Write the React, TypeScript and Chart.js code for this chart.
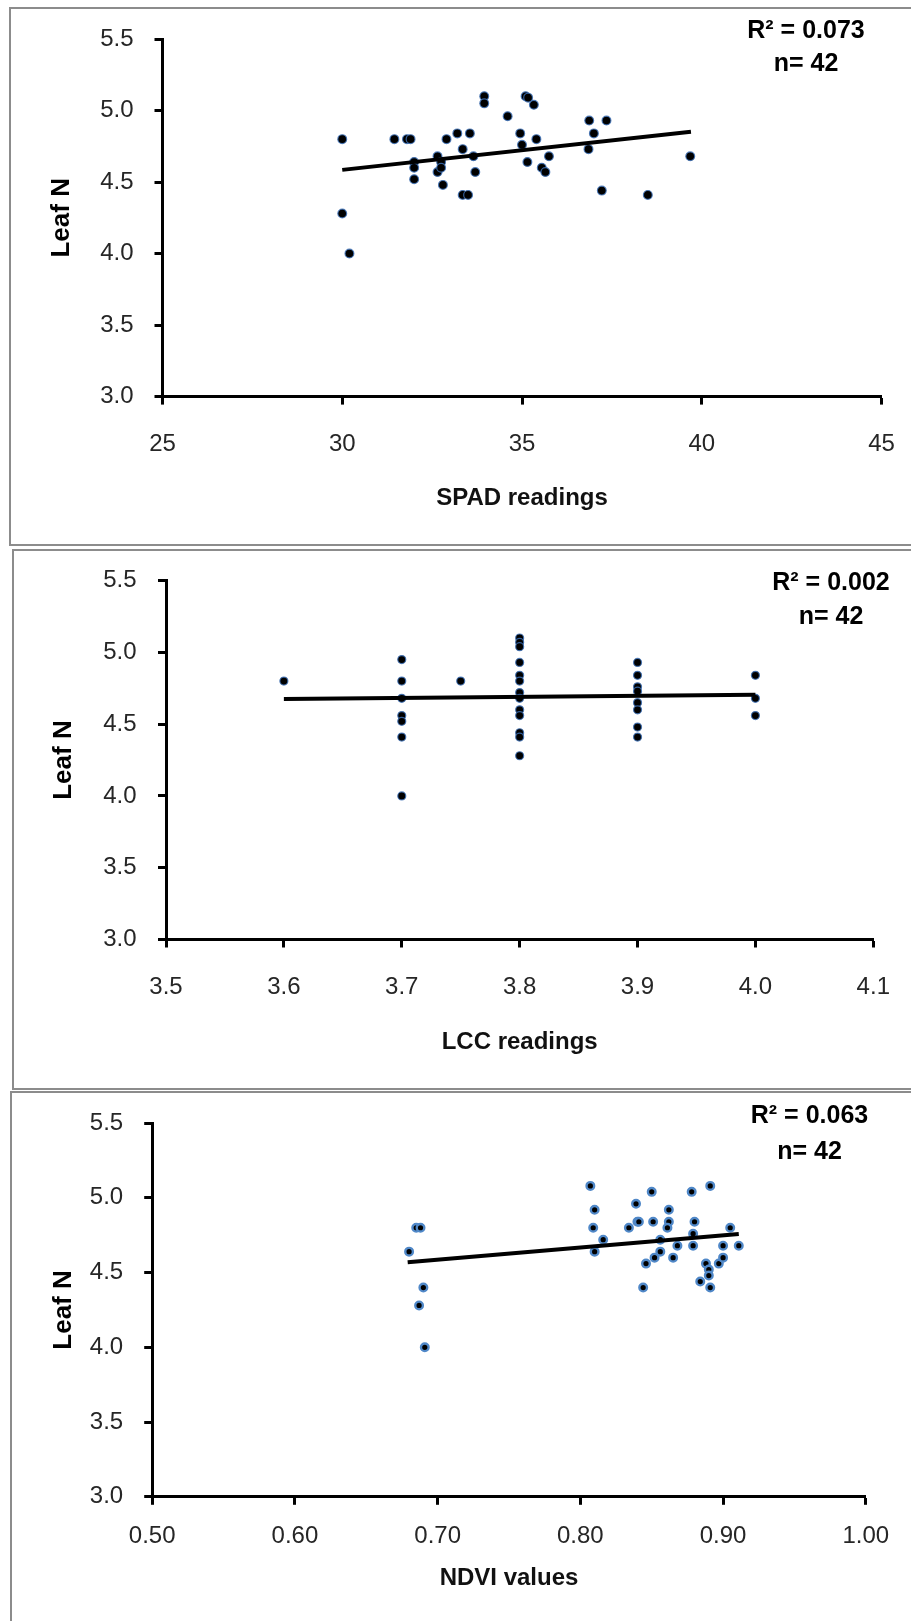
import React, { useEffect, useRef } from 'react';
import { Chart, registerables } from 'chart.js';

Chart.register(...registerables);

const FONT = "'Liberation Sans', Arial, Helvetica, sans-serif";

// ---- Axis ticks ----
const leafNTicks = [3.0, 3.5, 4.0, 4.5, 5.0, 5.5];
const spadTicks = [25, 30, 35, 40, 45];
const lccTicks = [3.5, 3.6, 3.7, 3.8, 3.9, 4.0, 4.1];
const ndviTicks = [0.5, 0.6, 0.7, 0.8, 0.9, 1.0];

// ---- Panel 1: SPAD readings vs Leaf N ----
const spadX = [30.0, 30.0, 30.2, 31.45, 31.8, 31.9, 32.0, 32.0, 32.0, 32.65, 32.65, 32.75, 32.75, 32.8, 32.9, 33.2, 33.35, 33.35, 33.5, 33.55, 33.65, 33.7, 33.95, 33.95, 34.6, 34.95, 35.0, 35.1, 35.17, 35.15, 35.33, 35.4, 35.55, 35.65, 35.75, 36.85, 36.87, 37.0, 37.35, 37.22, 38.5, 39.68];
const spadLeafN = [4.8, 4.28, 4.0, 4.8, 4.8, 4.8, 4.64, 4.6, 4.52, 4.57, 4.68, 4.64, 4.6, 4.48, 4.8, 4.84, 4.73, 4.41, 4.41, 4.84, 4.68, 4.57, 5.1, 5.05, 4.96, 4.84, 4.76, 5.1, 5.09, 4.64, 5.04, 4.8, 4.6, 4.57, 4.68, 4.73, 4.93, 4.84, 4.93, 4.44, 4.41, 4.68];
const spadTrendX = [30.0, 39.7];
const spadTrendY = [4.585, 4.852];

// ---- Panel 2: LCC readings vs Leaf N ----
const lccX = [3.6, 3.7, 3.7, 3.7, 3.7, 3.7, 3.7, 3.7, 3.75, 3.8, 3.8, 3.8, 3.8, 3.8, 3.8, 3.8, 3.8, 3.8, 3.8, 3.8, 3.8, 3.8, 3.9, 3.9, 3.9, 3.9, 3.9, 3.9, 3.9, 3.9, 4.0, 4.0, 4.0];
const lccLeafN = [4.8, 4.95, 4.8, 4.68, 4.56, 4.52, 4.41, 4.0, 4.8, 5.1, 5.07, 5.04, 4.93, 4.84, 4.8, 4.72, 4.68, 4.6, 4.56, 4.44, 4.41, 4.28, 4.93, 4.84, 4.76, 4.73, 4.65, 4.6, 4.48, 4.41, 4.84, 4.68, 4.56];
const lccTrendX = [3.6, 4.0];
const lccTrendY = [4.675, 4.705];

// ---- Panel 3: NDVI values vs Leaf N ----
const ndviX = [0.807, 0.810, 0.809, 0.816, 0.810, 0.834, 0.839, 0.840, 0.841, 0.846, 0.844, 0.850, 0.851, 0.852, 0.856, 0.856, 0.862, 0.862, 0.861, 0.865, 0.868, 0.878, 0.880, 0.879, 0.879, 0.891, 0.888, 0.890, 0.890, 0.884, 0.891, 0.897, 0.900, 0.900, 0.905, 0.911, 0.685, 0.688, 0.680, 0.690, 0.687, 0.691];
const ndviLeafN = [5.08, 4.92, 4.80, 4.72, 4.64, 4.80, 4.96, 4.84, 4.84, 4.56, 4.40, 5.04, 4.84, 4.60, 4.72, 4.64, 4.92, 4.84, 4.80, 4.60, 4.68, 5.04, 4.84, 4.76, 4.68, 5.08, 4.56, 4.52, 4.48, 4.44, 4.40, 4.56, 4.60, 4.68, 4.80, 4.68, 4.80, 4.80, 4.64, 4.40, 4.28, 4.00];
const ndviTrendX = [0.679, 0.911];
const ndviTrendY = [4.569, 4.758];

type PanelCfg = {
  box: { left: number; top: number; height: number };
  canvasTop: number;
  canvasHeight: number;
  area: { left: number; right: number; top: number; bottom: number };
  xs: number[];
  ys: number[];
  trendX: number[];
  trendY: number[];
  xTicks: number[];
  xDecimals: number;
  xTitle: string;
  r2: string;
  n: string;
  yLabelPad: number;
  xLabelPad: number;
  yTitleCenterX: number;
  xTitleCenterY: number;
  annX: number;
  annY: number[];
  point: { radius: number; border: string; borderWidth: number };
};

const panels: PanelCfg[] = [
  {
    box: { left: 9, top: 7, height: 539 },
    canvasTop: 0,
    canvasHeight: 546,
    area: { left: 162.5, right: 881.5, top: 39, bottom: 396.6 },
    xs: spadX, ys: spadLeafN, trendX: spadTrendX, trendY: spadTrendY,
    xTicks: spadTicks, xDecimals: 0, xTitle: 'SPAD readings',
    r2: 'R² = 0.073', n: 'n= 42',
    yLabelPad: 21, xLabelPad: 25, yTitleCenterX: 62, xTitleCenterY: 498.5,
    annX: 806, annY: [31.3, 64.5],
    point: { radius: 4.4, border: 'rgba(60,110,180,0.85)', borderWidth: 1.2 },
  },
  {
    box: { left: 12, top: 549, height: 541 },
    canvasTop: 548,
    canvasHeight: 541,
    area: { left: 166, right: 873.3, top: 32.6, bottom: 391.5 },
    xs: lccX, ys: lccLeafN, trendX: lccTrendX, trendY: lccTrendY,
    xTicks: lccTicks, xDecimals: 1, xTitle: 'LCC readings',
    r2: 'R² = 0.002', n: 'n= 42',
    yLabelPad: 21.5, xLabelPad: 25.8, yTitleCenterX: 64, xTitleCenterY: 494.7,
    annX: 831, annY: [35, 69.5],
    point: { radius: 4, border: 'rgba(60,110,180,0.85)', borderWidth: 1.2 },
  },
  {
    box: { left: 10, top: 1091, height: 600 },
    canvasTop: 1091,
    canvasHeight: 530,
    area: { left: 152.2, right: 865.8, top: 32.1, bottom: 405.8 },
    xs: ndviX, ys: ndviLeafN, trendX: ndviTrendX, trendY: ndviTrendY,
    xTicks: ndviTicks, xDecimals: 2, xTitle: 'NDVI values',
    r2: 'R² = 0.063', n: 'n= 42',
    yLabelPad: 21, xLabelPad: 16.8, yTitleCenterX: 64, xTitleCenterY: 487.6,
    annX: 809.5, annY: [25, 61.5],
    point: { radius: 3.8, border: '#5088c8', borderWidth: 2.4 },
  },
];

const annotationPlugin = {
  id: 'r2note',
  afterDraw(chart: any, _args: any, opts: any) {
    const ctx = chart.ctx;
    ctx.save();
    ctx.fillStyle = '#000';
    ctx.font = `bold 25px ${FONT}`;
    ctx.textAlign = 'center';
    ctx.textBaseline = 'middle';
    (opts.lines as string[]).forEach((t, i) => ctx.fillText(t, opts.x, opts.ys[i]));
    ctx.restore();
  },
};

function Panel({ cfg }: { cfg: PanelCfg }) {
  const ref = useRef<HTMLCanvasElement | null>(null);
  useEffect(() => {
    if (!ref.current) return;
    const a = cfg.area;
    const xMin = cfg.xTicks[0];
    const xMax = cfg.xTicks[cfg.xTicks.length - 1];
    const chart = new Chart(ref.current, {
      type: 'scatter',
      data: {
        datasets: [
          {
            data: cfg.trendX.map((x, i) => ({ x, y: cfg.trendY[i] })),
            showLine: true,
            borderColor: '#000',
            borderWidth: 4,
            pointRadius: 0,
            fill: false,
          } as any,
          {
            data: cfg.xs.map((x, i) => ({ x, y: cfg.ys[i] })),
            pointRadius: cfg.point.radius,
            pointBackgroundColor: '#000',
            pointBorderColor: cfg.point.border,
            pointBorderWidth: cfg.point.borderWidth,
          },
        ],
      },
      options: {
        animation: false,
        responsive: false,
        maintainAspectRatio: false,
        devicePixelRatio: 1,
        events: [],
        layout: { padding: { left: 0, top: a.top, right: 911 - a.right, bottom: 0 } },
        plugins: {
          legend: { display: false },
          tooltip: { enabled: false },
          r2note: { lines: [cfg.r2, cfg.n], x: cfg.annX, ys: cfg.annY },
        } as any,
        scales: {
          x: {
            type: 'linear',
            position: 'bottom',
            min: xMin,
            max: xMax,
            afterBuildTicks: (s: any) => {
              s.ticks = cfg.xTicks.map((v) => ({ value: v }));
            },
            afterFit: (s: any) => {
              s.height = cfg.canvasHeight - a.bottom;
              s.paddingLeft = 0;
              s.paddingRight = 0;
            },
            ticks: {
              autoSkip: false,
              maxRotation: 0,
              padding: cfg.xLabelPad,
              color: '#262626',
              font: { family: FONT, size: 24 },
              callback: (v: any) => Number(v).toFixed(cfg.xDecimals),
            },
            grid: {
              display: true,
              drawOnChartArea: false,
              drawTicks: true,
              tickLength: 8,
              tickWidth: 3,
              tickColor: '#000',
            },
            border: { display: true, color: '#000', width: 3 },
            title: {
              display: true,
              text: cfg.xTitle,
              color: '#111',
              font: { family: FONT, size: 24, weight: 'bold' },
              padding: { top: 0, bottom: cfg.canvasHeight - cfg.xTitleCenterY - 14.4 },
            },
          },
          y: {
            type: 'linear',
            position: 'left',
            min: leafNTicks[0],
            max: leafNTicks[leafNTicks.length - 1],
            afterBuildTicks: (s: any) => {
              s.ticks = leafNTicks.map((v) => ({ value: v }));
            },
            afterFit: (s: any) => {
              s.width = a.left;
              s.paddingTop = 0;
              s.paddingBottom = 0;
            },
            ticks: {
              autoSkip: false,
              padding: cfg.yLabelPad,
              color: '#262626',
              font: { family: FONT, size: 24 },
              callback: (v: any) => Number(v).toFixed(1),
            },
            grid: {
              display: true,
              drawOnChartArea: false,
              drawTicks: true,
              tickLength: 8,
              tickWidth: 3,
              tickColor: '#000',
            },
            border: { display: true, color: '#000', width: 3 },
            title: {
              display: true,
              text: 'Leaf N',
              color: '#000',
              font: { family: FONT, size: 26, weight: 'bold' },
              padding: { top: cfg.yTitleCenterX - 15.6, bottom: 0 },
            },
          },
        },
      } as any,
      plugins: [annotationPlugin as any],
    });
    return () => chart.destroy();
  }, [cfg]);

  return (
    <>
      <div
        style={{
          position: 'absolute',
          left: cfg.box.left,
          top: cfg.box.top,
          width: 960 - cfg.box.left,
          height: cfg.box.height,
          border: '2px solid #8c8c8c',
          boxSizing: 'border-box',
        }}
      />
      <canvas
        ref={ref}
        width={911}
        height={cfg.canvasHeight}
        style={{
          position: 'absolute',
          left: 0,
          top: cfg.canvasTop,
          width: 911,
          height: cfg.canvasHeight,
        }}
      />
    </>
  );
}

export default function App() {
  return (
    <div
      style={{
        position: 'absolute',
        left: 0,
        top: 0,
        width: 911,
        height: 1621,
        overflow: 'hidden',
        background: '#fff',
      }}
    >
      {panels.map((p, i) => (
        <Panel key={i} cfg={p} />
      ))}
    </div>
  );
}
